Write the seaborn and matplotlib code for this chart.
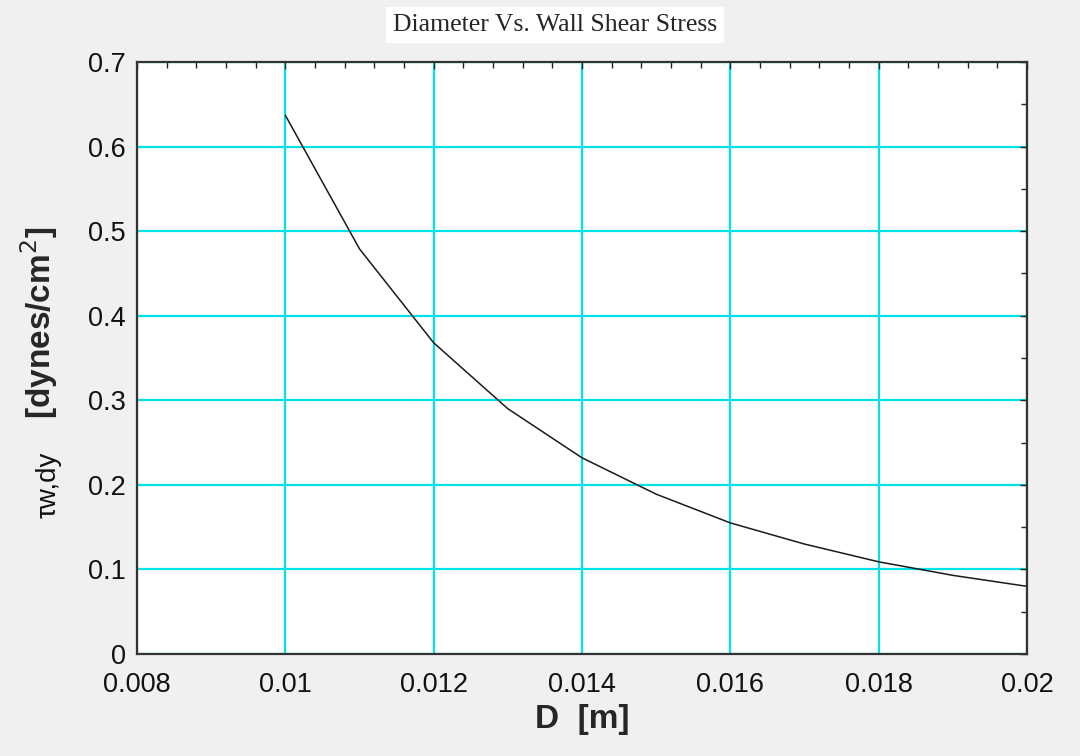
import numpy as np
import pandas as pd
import matplotlib
matplotlib.use("Agg")
import matplotlib.pyplot as plt
from matplotlib.ticker import MultipleLocator, FixedLocator
import seaborn as sns

# data
diameter = [0.010, 0.011, 0.012, 0.013, 0.014, 0.015, 0.016, 0.017, 0.018, 0.019, 0.020]
tau_wall = [0.637, 0.479, 0.368, 0.290, 0.232, 0.189, 0.155, 0.130, 0.109, 0.093, 0.080]

x_ticks = [0.008, 0.010, 0.012, 0.014, 0.016, 0.018, 0.020]
x_tick_labels = ["0.008", "0.01", "0.012", "0.014", "0.016", "0.018", "0.02"]
y_ticks = [0, 0.1, 0.2, 0.3, 0.4, 0.5, 0.6, 0.7]
y_tick_labels = ["0", "0.1", "0.2", "0.3", "0.4", "0.5", "0.6", "0.7"]

df = pd.DataFrame({"D": diameter, "tau": tau_wall})

sns.set_theme(style="white")
plt.rcParams["font.family"] = ["Liberation Sans", "DejaVu Sans"]

fig = plt.figure(figsize=(10.8, 7.56), dpi=100, facecolor="#f0f0f0")
ax = fig.add_axes([137/1080, 1 - 654/756, 890/1080, 592/756])
ax.set_facecolor("white")

sns.lineplot(data=df, x="D", y="tau", color="#1a1a1a", lw=1.1, ax=ax)

ax.set_xlim(0.008, 0.020)
ax.set_ylim(0, 0.7)
ax.xaxis.set_major_locator(FixedLocator(x_ticks))
ax.set_xticklabels(x_tick_labels)
ax.yaxis.set_major_locator(FixedLocator(y_ticks))
ax.set_yticklabels(y_tick_labels)
ax.xaxis.set_minor_locator(MultipleLocator(0.0004))
ax.yaxis.set_minor_locator(MultipleLocator(0.05))

ax.grid(True, which="major", color="#00e2ea", lw=1.6)
ax.set_axisbelow(True)

ax.tick_params(which="both", direction="in", top=True, right=True,
               color="#222222", labelsize=19.5, labelcolor="#111111")
ax.tick_params(which="major", length=5, width=1)
ax.tick_params(which="minor", length=4, width=1)
ax.tick_params(axis="x", which="major", pad=13)
ax.tick_params(axis="y", which="major", pad=8)

for s in ax.spines.values():
    s.set_color("#333333")
    s.set_linewidth(1.6)

ax.set_xlabel("D  [m]", fontsize=24, fontweight="bold", labelpad=4)
ax.set_ylabel("[dynes/cm$^2$]", fontsize=24, fontweight="bold")
ax.yaxis.set_label_coords(-0.087, 0.56)
ax.text(-0.099, 0.285, "τw,dy", transform=ax.transAxes, rotation=90,
        fontsize=20, ha="center", va="center", color="#111111")

fig.text(0.514, 1 - 25/756, "Diameter Vs. Wall Shear Stress",
         family=["Liberation Serif", "DejaVu Serif"], fontsize=18.5,
         ha="center", va="center",
         bbox=dict(facecolor="white", edgecolor="none", pad=5))

fig.savefig("out.png", dpi=100, facecolor=fig.get_facecolor())
